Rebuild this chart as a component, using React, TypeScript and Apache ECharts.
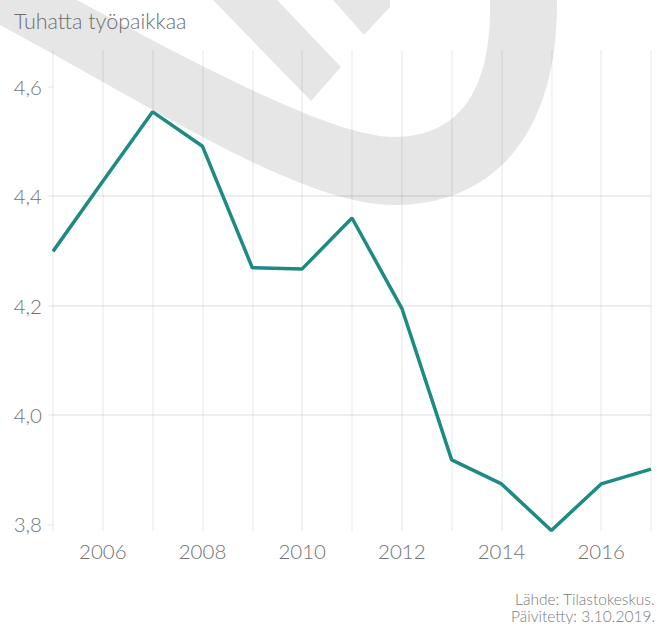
import React, { useEffect, useRef } from "react";
import * as echarts from "echarts";

const years = [2005, 2006, 2007, 2008, 2009, 2010, 2011, 2012, 2013, 2014, 2015, 2016, 2017];
const jobs = [4.299, 4.427, 4.554, 4.491, 4.269, 4.267, 4.36, 4.195, 3.918, 3.874, 3.789, 3.874, 3.901];
const yTicks = [3.8, 4.0, 4.2, 4.4, 4.6];
const titleText = "Tuhatta työpaikkaa";
const sourceLines = ["Lähde: Tilastokeskus.", "Päivitetty: 3.10.2019."];

const LOGO_D =
  "M 0 25 C 150 105 300 205 394 205 C 480 205 558 150 557 0 L 490 0 C 492 90 460 137 394 137 C 330 137 180 55 77 0 L 0 0 Z " +
  "M 213 0 L 277 0 L 341 67 L 311 101 Z " +
  "M 333 0 L 390 0 L 390 7 L 364 35 Z";

let registered = false;
function ensureShape() {
  if (registered) return;
  echarts.graphic.registerShape("logo", echarts.graphic.extendPath(LOGO_D, {}) as any);
  registered = true;
}

const FONT = "Lato";
const TEXT_GREY = "#737373";
const GRID = "rgba(0,0,0,0.065)";

export default function App() {
  const ref = useRef<HTMLDivElement>(null);
  useEffect(() => {
    if (!ref.current) return;
    ensureShape();
    const chart = echarts.init(ref.current, undefined, { renderer: "svg" });
    chart.setOption({
      animation: false,
      backgroundColor: "#ffffff",
      textStyle: { fontFamily: FONT },
      title: {
        text: titleText,
        left: 9,
        top: 5,
        textStyle: { fontFamily: FONT, fontSize: 21.5, fontWeight: 300, color: "#6e6e6e" },
      },
      graphic: [
        {
          type: "logo",
          x: 0,
          y: 0,
          z: -10,
          silent: true,
          shape: {},
          style: { fill: "#e6e6e6" },
        },
        ...sourceLines.map((t, i) => ({
          type: "text",
          right: 2,
          top: 591 + i * 17,
          z: 10,
          style: {
            text: t,
            fontFamily: FONT,
            fontSize: 15.5,
            lineHeight: 16,
            fontWeight: 300,
            fill: "#7a7a7a",
            align: "right",
          },
        })),
      ],
      grid: { left: 53, right: 6, top: 50, bottom: 93, containLabel: false },
      xAxis: {
        type: "value",
        min: 2005,
        max: 2017,
        interval: 1,
        axisLine: { show: false },
        axisTick: { show: false },
        axisLabel: {
          margin: 9,
          fontFamily: FONT,
          fontSize: 20.5,
          fontWeight: 300,
          color: TEXT_GREY,
          formatter: (v: number) => (v % 2 === 0 ? String(v) : ""),
        },
        splitLine: { show: true, lineStyle: { color: GRID, width: 1.5 } },
      },
      yAxis: {
        type: "value",
        min: 3.788,
        max: 4.667,
        axisLine: { show: false },
        axisTick: {
          show: true,
          length: 5,
          customValues: yTicks,
          lineStyle: { color: GRID, width: 1.5 },
        },
        axisLabel: {
          margin: 11,
          fontFamily: FONT,
          fontSize: 20.5,
          fontWeight: 300,
          color: TEXT_GREY,
          customValues: yTicks,
          formatter: (v: number) => v.toFixed(1).replace(".", ","),
        },
        splitLine: {
          show: true,
          showMinLine: false,
          showMaxLine: false,
          lineStyle: { color: GRID, width: 2 },
        },
      },
      series: [
        {
          type: "line",
          data: years.map((y, i) => [y, jobs[i]]),
          showSymbol: false,
          symbol: "none",
          lineStyle: { color: "#1e8a84", width: 3.5 },
          z: 5,
        },
      ],
    });
    return () => chart.dispose();
  }, []);
  return (
    <div
      ref={ref}
      style={{ position: "fixed", left: 0, top: 0, width: 657, height: 624 }}
    />
  );
}
